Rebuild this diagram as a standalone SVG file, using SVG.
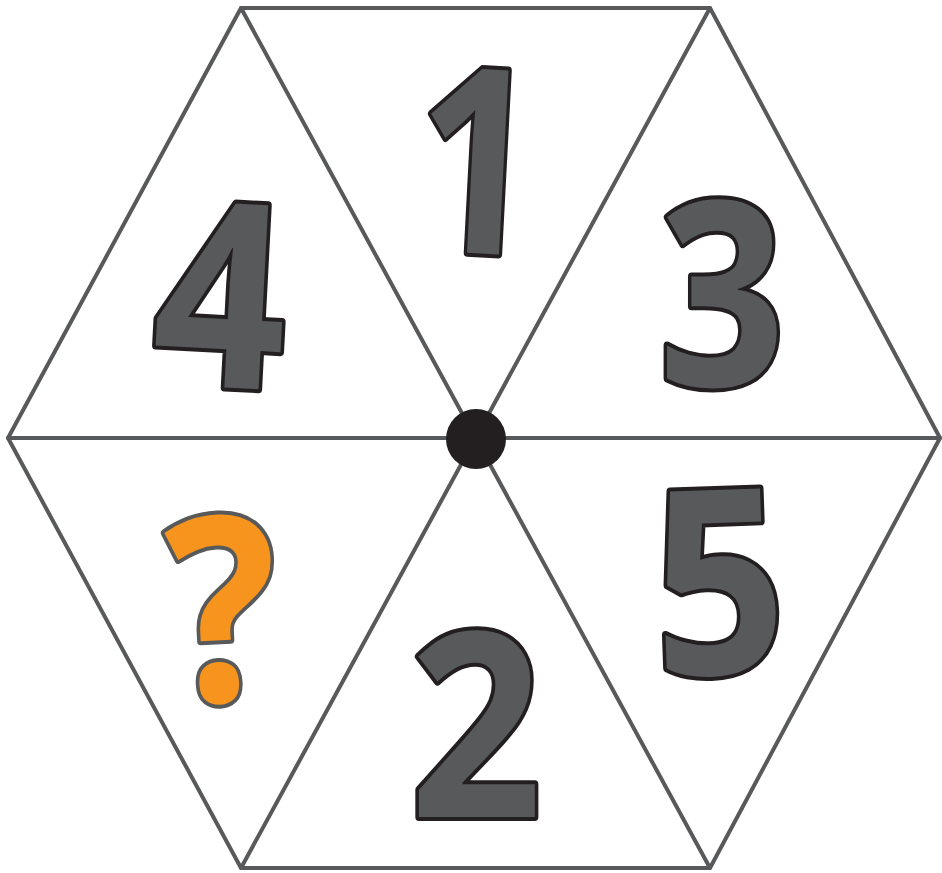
<svg xmlns="http://www.w3.org/2000/svg" width="942" height="873" viewBox="0 0 942 873">
<style>
.ln{stroke:#58595b;stroke-width:4;fill:none;stroke-linecap:round;stroke-linejoin:round}
.num{font-family:"Open Sans","Liberation Sans",sans-serif;font-weight:700;font-size:258px;fill:#58595b;stroke:#231f20;stroke-width:8;paint-order:stroke;stroke-linejoin:round;text-anchor:middle}
.q{fill:#f7941d;stroke:#58595b;font-size:258px}
</style>
<rect width="942" height="873" fill="#ffffff"/>
<g id="connectors">
<polygon class="ln" points="241,8 710,8 940,438 710,868 241,868 8,438"/>
<line class="ln" x1="8" y1="438" x2="940" y2="438"/>
<line class="ln" x1="241" y1="8" x2="710" y2="868"/>
<line class="ln" x1="710" y1="8" x2="241" y2="868"/>
</g>
<g id="center"><circle cx="476" cy="439" r="30" fill="#231f20"/></g>
<g id="n1"><text class="num" x="0" y="0" transform="translate(472,253) rotate(3) scale(0.82,1)">1</text></g>
<g id="n4"><text class="num" x="0" y="0" transform="translate(216,387) rotate(3) scale(0.9,1)">4</text></g>
<g id="n3"><text class="num" x="0" y="0" transform="translate(722,386) scale(0.86,1)">3</text></g>
<g id="n5"><text class="num" x="0" y="0" transform="translate(722,674) rotate(-2) scale(0.9,1)">5</text></g>
<g id="n2"><text class="num" x="0" y="0" transform="translate(476,817) scale(0.9,1)">2</text></g>
<g id="nq"><text class="num q" x="0" y="0" transform="translate(228,701) rotate(-3) scale(0.9,1)">?</text></g>
</svg>
